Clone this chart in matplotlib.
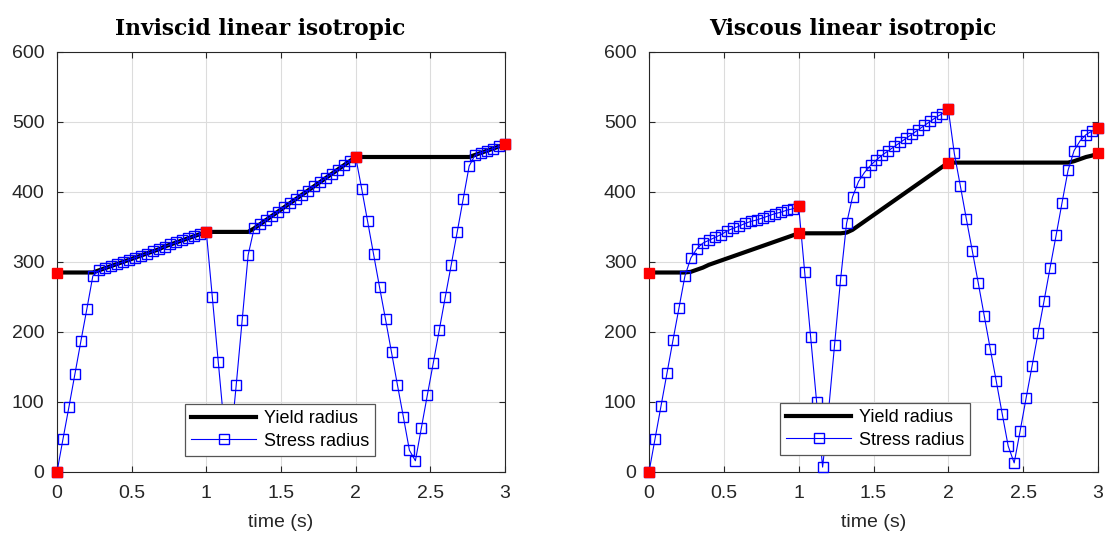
import numpy as np
import matplotlib
matplotlib.use("Agg")
import matplotlib.pyplot as plt

# time grid (s)
time = np.linspace(0.0, 3.0, 76)

# Inviscid linear isotropic
inv_stress = [0, 47, 93, 140, 187, 233, 280,
              288, 291, 294, 297, 300, 303, 306, 309, 312, 315, 318, 322, 325, 328, 331, 334, 337, 340, 343,
              250, 157, 64, 35, 124, 217, 310,
              348, 354, 360, 366, 372, 378, 384, 390, 396, 402, 408, 414, 420, 426, 432, 438, 444, 450,
              405, 358, 311, 264, 218, 171, 124, 78, 31, 16, 63, 110, 156, 203, 250, 296, 343, 390, 437,
              453, 456, 459, 462, 465, 468]
inv_yield = [285, 285, 285, 285, 285, 285, 285,
             288, 291, 294, 297, 300, 303, 306, 309, 312, 315, 318, 322, 325, 328, 331, 334, 337, 340, 343,
             343, 343, 343, 343, 343, 343, 343,
             348, 354, 360, 366, 372, 378, 384, 390, 396, 402, 408, 414, 420, 426, 432, 438, 444, 450,
             450, 450, 450, 450, 450, 450, 450, 450, 450, 450, 450, 450, 450, 450, 450, 450, 450, 450, 450,
             453, 456, 459, 462, 465, 468]
inv_red_t = [0, 0, 1, 2, 3]
inv_red_v = [0, 285, 343, 450, 468]

# Viscous linear isotropic
vis_stress = [0, 47, 94, 141, 188, 234, 280,
              306, 319, 327, 331, 335, 339, 344, 348, 351, 355, 358, 360, 363, 366, 369, 371, 374, 376, 380,
              286, 193, 100, 7, 88, 182, 275,
              355, 393, 415, 428, 438, 446, 453, 459, 465, 471, 477, 483, 489, 495, 501, 507, 512, 518,
              455, 409, 362, 316, 270, 223, 176, 130, 83, 37, 13, 59, 106, 152, 199, 245, 292, 338, 385,
              431, 459, 473, 482, 487, 492]
vis_yield = [285, 285, 285, 285, 285, 285, 285,
             286, 289, 292, 296, 299, 302, 305, 308, 311, 314, 317, 320, 323, 326, 329, 332, 335, 338, 341,
             341, 341, 341, 341, 341, 341, 341,
             342, 346, 352, 358, 364, 370, 376, 382, 388, 394, 400, 406, 412, 418, 424, 430, 436, 442,
             442, 442, 442, 442, 442, 442, 442, 442, 442, 442, 442, 442, 442, 442, 442, 442, 442, 442, 442,
             442, 444, 447, 450, 452, 455]
vis_red_t = [0, 0, 1, 1, 2, 2, 3, 3]
vis_red_v = [0, 285, 380, 341, 518, 442, 492, 455]

titles = ["Inviscid linear isotropic", "Viscous linear isotropic"]
xticks = [0, 0.5, 1, 1.5, 2, 2.5, 3]
xticklabels = ["0", "0.5", "1", "1.5", "2", "2.5", "3"]
yticks = [0, 100, 200, 300, 400, 500, 600]

plt.rcParams['font.family'] = ['Liberation Sans', 'DejaVu Sans']
W, H = 1105, 536
fig = plt.figure(figsize=(W / 100, H / 100), dpi=100)

axcol = '#262626'
panels = [
    dict(x0=57, x1=505, title=titles[0], s=inv_stress, y=inv_yield, rt=inv_red_t, rv=inv_red_v, leg=(185, 456)),
    dict(x0=649, x1=1098, title=titles[1], s=vis_stress, y=vis_yield, rt=vis_red_t, rv=vis_red_v, leg=(780, 455)),
]
for p in panels:
    ax = fig.add_axes([p['x0'] / W, (H - 472) / H, (p['x1'] - p['x0']) / W, 420 / H])
    ax.plot(time, p['y'], color='black', lw=3, label='Yield radius', zorder=3, clip_on=False)
    ax.plot(time, p['s'], color=(0, 0, 1), lw=0.8, marker='s', ms=7.3, mfc='none', mec=(0, 0, 1),
            mew=1.0, label='Stress radius', zorder=4, clip_on=False)
    ax.plot(p['rt'], p['rv'], ls='none', marker='s', ms=7.5, color='red', mec='red', zorder=6, clip_on=False)
    ax.set_xlim(0, 3)
    ax.set_ylim(0, 600)
    ax.set_xticks(xticks)
    ax.set_xticklabels(xticklabels)
    ax.set_yticks(yticks)
    ax.grid(True, color='#dcdcdc', lw=0.8)
    ax.set_axisbelow(True)
    ax.tick_params(direction='in', length=4, width=0.8, top=True, right=True, colors=axcol,
                   labelsize=14, pad=9, labelcolor=axcol)
    for sp in ax.spines.values():
        sp.set_color(axcol)
        sp.set_linewidth(0.8)
    ax.set_xlabel('time (s)', fontsize=14, color=axcol, labelpad=9)
    ax.set_title(p['title'], family='DejaVu Serif', fontweight='bold', fontsize=15.7,
                 x=0.453, pad=12, color='black')
    lx = (p['leg'][0] - p['x0']) / (p['x1'] - p['x0'])
    ly = (472 - p['leg'][1]) / 420
    leg = ax.legend(loc='lower left', bbox_to_anchor=(lx, ly), borderaxespad=0, fontsize=13,
                    fancybox=False, framealpha=1, edgecolor='#555555', handlelength=3.6,
                    borderpad=0.35, labelspacing=0.3, handletextpad=0.4)
    leg.get_frame().set_linewidth(0.9)
    leg.set_zorder(10)

fig.savefig('out.png', dpi=100)
